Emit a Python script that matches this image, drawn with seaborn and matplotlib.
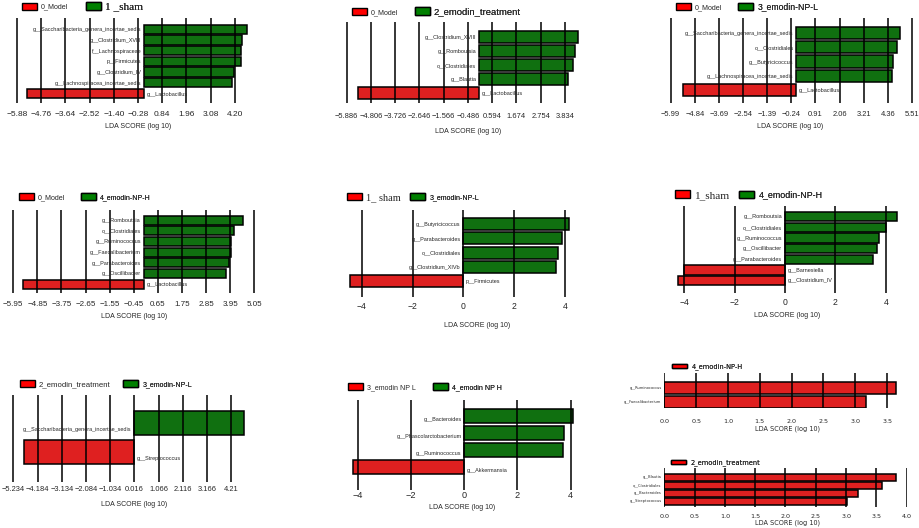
import matplotlib
matplotlib.use("Agg")
import matplotlib.pyplot as plt
from matplotlib import font_manager
from matplotlib.patches import Patch
import pandas as pd
import seaborn as sns

# ---- data (LDA score, log10) ----
p1_taxa = ["g__Saccharibacteria_genera_incertae_sedis", "g__Clostridium_XVIII", "f__Lachnospiraceae",
           "p__Firmicutes", "g__Clostridium_IV", "g__Lachnospiracea_incertae_sedis", "g__Lactobacillus"]
p1_lda = [4.75, 4.52, 4.50, 4.47, 4.15, 4.06, -5.42]
p1_groups = ["0_Model", "1 _sham"]
p1_ticks = ["−5.88", "−4.76", "−3.64", "−2.52", "−1.40", "−0.28", "0.84", "1.96", "3.08", "4.20"]

p2_taxa = ["g__Clostridium_XVIII", "g__Romboutsia", "o__Clostridiales", "g__Blautia", "g__Lactobacillus"]
p2_lda = [4.41, 4.28, 4.20, 3.95, -5.37]
p2_groups = ["0_Model", "2_emodin_treatment"]
p2_ticks = ["−5.886", "−4.806", "−3.726", "−2.646", "−1.566", "−0.486", "0.594", "1.674", "2.754", "3.834"]

p3_taxa = ["g__Saccharibacteria_genera_incertae_sedis", "o__Clostridiales", "g__Butyricicoccus",
           "g__Lachnospiracea_incertae_sedis", "g__Lactobacillus"]
p3_lda = [4.95, 4.78, 4.61, 4.54, -5.42]
p3_groups = ["0_Model", "3_emodin-NP-L"]
p3_ticks = ["−5.99", "−4.84", "−3.69", "−2.54", "−1.39", "−0.24", "0.91", "2.06", "3.21", "4.36", "5.51"]

p4_taxa = ["g__Romboutsia", "o__Clostridiales", "g__Ruminococcus", "g__Faecalibacterium",
           "g__Parabacteroides", "g__Oscillibacter", "g__Lactobacillus"]
p4_lda = [4.53, 4.15, 3.99, 3.97, 3.89, 3.74, -5.51]
p4_groups = ["0_Model", "4_emodin-NP-H"]
p4_ticks = ["−5.95", "−4.85", "−3.75", "−2.65", "−1.55", "−0.45", "0.65", "1.75", "2.85", "3.95", "5.05"]

p5_taxa = ["g__Butyricicoccus", "g__Parabacteroides", "o__Clostridiales", "g__Clostridium_XIVb", "p__Firmicutes"]
p5_lda = [4.17, 3.87, 3.73, 3.65, -4.46]
p5_groups = ["1_ sham", "3_emodin-NP-L"]
p5_ticks = ["−4", "−2", "0", "2", "4"]

p6_taxa = ["g__Romboutsia", "o__Clostridiales", "g__Ruminococcus", "g__Oscillibacter",
           "g__Parabacteroides", "g__Barnesiella", "g__Clostridium_IV"]
p6_lda = [4.46, 4.00, 3.74, 3.66, 3.50, -4.02, -4.26]
p6_groups = ["1_sham", "4_emodin-NP-H"]
p6_ticks = ["−4", "−2", "0", "2", "4"]

p7_taxa = ["g__Saccharibacteria_genera_incertae_sedis", "g__Streptococcus"]
p7_lda = [4.79, -4.76]
p7_groups = ["2_emodin_treatment", "3_emodin-NP-L"]
p7_ticks = ["−5.234", "−4.184", "−3.134", "−2.084", "−1.034", "0.016", "1.066", "2.116", "3.166", "4.21"]

p8_taxa = ["g__Bacteroides", "g__Phascolarctobacterium", "g__Ruminococcus", "g__Akkermansia"]
p8_lda = [4.08, 3.76, 3.70, -4.20]
p8_groups = ["3_emodin NP L", "4_emodin NP H"]
p8_ticks = ["−4", "−2", "0", "2", "4"]

p9_taxa = ["g__Ruminococcus", "g__Faecalibacterium"]
p9_lda = [3.64, 3.17]
p9_groups = ["4_emodin-NP-H"]
p9_ticks = ["0.0", "0.5", "1.0", "1.5", "2.0", "2.5", "3.0", "3.5"]

p10_taxa = ["g__Blautia", "o__Clostridiales", "g__Bacteroides", "g__Streptococcus"]
p10_lda = [3.83, 3.60, 3.20, 3.01]
p10_groups = ["2_emodin_treatment"]
p10_ticks = ["0.0", "0.5", "1.0", "1.5", "2.0", "2.5", "3.0", "3.5", "4.0"]

panels = [
    (p1_taxa, p1_lda, p1_groups, p1_ticks),
    (p2_taxa, p2_lda, p2_groups, p2_ticks),
    (p3_taxa, p3_lda, p3_groups, p3_ticks),
    (p4_taxa, p4_lda, p4_groups, p4_ticks),
    (p5_taxa, p5_lda, p5_groups, p5_ticks),
    (p6_taxa, p6_lda, p6_groups, p6_ticks),
    (p7_taxa, p7_lda, p7_groups, p7_ticks),
    (p8_taxa, p8_lda, p8_groups, p8_ticks),
    (p9_taxa, p9_lda, p9_groups, p9_ticks),
    (p10_taxa, p10_lda, p10_groups, p10_ticks),
]

# ---- layout (pixels in a 920x528 canvas) ----
# box = (left, right, top, bottom), tb = rows of margin above/below, xl = xlabel centre x / top y
layout = [
    dict(box=(15.5, 248.8, 18, 103), xlim=(-5.95, 4.85), tb=(1.06, 0.9), pad=6.1, ts=7.4, xl=(138, 123),
         leg=[(18, 6.7, 6.3), (80, 6.7, 8.1)], dy=0.06),
    dict(box=(345.3, 582.2, 21.7, 103.3), xlim=(-5.95, 4.6), tb=(1.06, 0.7), pad=6.8, ts=6.6, xl=(468, 128),
         leg=[(348, 12, 6.3), (410, 12, 8.3)], dy=0.04),
    dict(box=(669.4, 912.8, 18, 103), xlim=(-6.05, 5.55), tb=(1.05, 0.91), pad=5.4, ts=6.6, xl=(790, 123),
         leg=[(672, 7, 6.3), (734, 7, 7.6)], dy=0.05),
    dict(box=(12.2, 255.3, 210, 292.7), xlim=(-6.0, 5.1), tb=(0.94, 0.78), pad=6.3, ts=7.0, xl=(134, 313),
         leg=[(15, 197.3, 6.3), (77, 197.3, 6.2)], dy=0.03),
    dict(box=(346.5, 575, 210, 296.7), xlim=(-4.6, 4.4), tb=(1.01, 1.13), pad=3.5, ts=7.6, xl=(477.5, 322),
         leg=[(341.7, 197.3, 7.5), (407, 197.3, 6.1)], dy=0.05),
    dict(box=(674.1, 900.9, 206, 293.3), xlim=(-4.4, 4.6), tb=(1.0, 1.18), pad=3.5, ts=7.6, xl=(787.5, 312),
         leg=[(669, 195, 8.1), (735, 195, 7.8)], dy=0.02),
    dict(box=(11.9, 246.9, 395, 481.7), xlim=(-5.3, 4.9), tb=(1.0, 1.06), pad=3.2, ts=6.6, xl=(134, 501),
         leg=[(16, 384, 6.8), (120, 384, 6.1)], dy=0.23),
    dict(box=(349.9, 576, 400, 490), xlim=(-4.3, 4.2), tb=(0.96, 1.36), pad=0.8, ts=8.0, xl=(462.5, 504),
         leg=[(344, 387.3, 6.2), (429, 387.3, 6.2)], dy=0.22),
    dict(box=(664.3, 903, 373.3, 408.3), xlim=(0, 3.75), tb=(1.0, 0.45), pad=7.5, ts=4.6, xl=(787.6, 425.5),
         leg=[(669, 366.7, 4.8)], dy=0.0, small=True),
    dict(box=(664.3, 906.7, 468, 506.7), xlim=(0, 4.0), tb=(1.16, 0.68), pad=5.6, ts=4.6, xl=(787.6, 519),
         leg=[(668, 462.7, 4.8)], dy=0.0, small=True),
]

W, H = 920, 528
RED, GREEN = "#ff0000", "#008000"

sns.set_style("white")
names = {f.name for f in font_manager.fontManager.ttflist}
if "Liberation Sans Narrow" in names:
    NARROW, K = "Liberation Sans Narrow", 1.0
else:
    NARROW, K = "Liberation Sans", 0.82
SERIF = "Liberation Serif"
PLAIN = "DejaVu Sans"
plt.rcParams["font.family"] = [NARROW, "DejaVu Sans"]

fig = plt.figure(figsize=(W / 100, H / 100), dpi=100)

for (taxa, lda, groups, ticks), lay in zip(panels, layout):
    x0, x1, y0, y1 = lay["box"]
    ax = fig.add_axes([x0 / W, 1 - y1 / H, (x1 - x0) / W, (y1 - y0) / H])
    small = lay.get("small", False)
    fam = PLAIN if small else NARROW
    k = 1.0 if small else K

    cls = [groups[0] if v < 0 or len(groups) == 1 else groups[1] for v in lda]
    df = pd.DataFrame({"taxon": taxa, "lda": lda, "group": cls})
    pal = dict(zip(groups, [RED, GREEN]))
    sns.barplot(data=df, x="lda", y="taxon", hue="group", hue_order=groups, order=taxa,
                palette=pal, dodge=False, width=0.85, edgecolor="black", linewidth=1.1,
                errorbar=None, legend=False, ax=ax)

    n = len(taxa)
    t, b = lay["tb"]
    ax.set_ylim(n - 1 + b, -t)
    ax.set_xlim(*lay["xlim"])
    ax.set_yticks([])
    ax.set_ylabel("")
    sns.despine(ax=ax, left=True, bottom=True)

    tick_vals = [float(s.replace("−", "-")) for s in ticks]
    ax.set_xticks(tick_vals)
    ax.set_xticklabels(ticks, fontsize=lay["ts"] * k, family=fam)
    ax.tick_params(axis="x", length=0, pad=lay["pad"])
    ax.grid(True, axis="x", color="black", linewidth=1.1)
    ax.set_axisbelow(False)

    ax.set_xlabel("LDA SCORE (log 10)", fontsize=(4.7 if small else 6.1 * k), family=fam)
    cx, ty = lay["xl"]
    ax.xaxis.set_label_coords((cx - x0) / (x1 - x0), (y1 - ty) / (y1 - y0))

    # taxon names next to the zero line
    lab_size = 2.6 if small else 4.8 * k
    for i, (name, v) in enumerate(zip(taxa, lda)):
        off = -2 if v > 0 else 2
        ax.annotate(name, xy=(0, i + lay["dy"]), xytext=(off, 0), textcoords="offset points",
                    ha="right" if v > 0 else "left", va="center", fontsize=lab_size, family=fam,
                    annotation_clip=False)

    # one legend entry per class, placed above the panel
    for g, color, (lx, ly, size) in zip(groups, [RED, GREEN], lay["leg"]):
        if "sham" in g:
            prop = {"family": SERIF, "size": size}
        elif small:
            prop = {"family": PLAIN, "size": size}
        else:
            size = size * K
            prop = {"family": NARROW, "size": size}
        hh = (4 if small else 8) * 0.72 / size
        handle = Patch(facecolor=color, edgecolor="black", linewidth=1.0)
        leg = ax.legend([handle], [g], loc="center left", bbox_to_anchor=(lx / W, 1 - ly / H),
                        bbox_transform=fig.transFigure, frameon=False, borderpad=0,
                        handlelength=10.8 / size, handleheight=hh, handletextpad=2.9 / size, prop=prop)
        ax.add_artist(leg)

fig.savefig("out.png", dpi=100)
